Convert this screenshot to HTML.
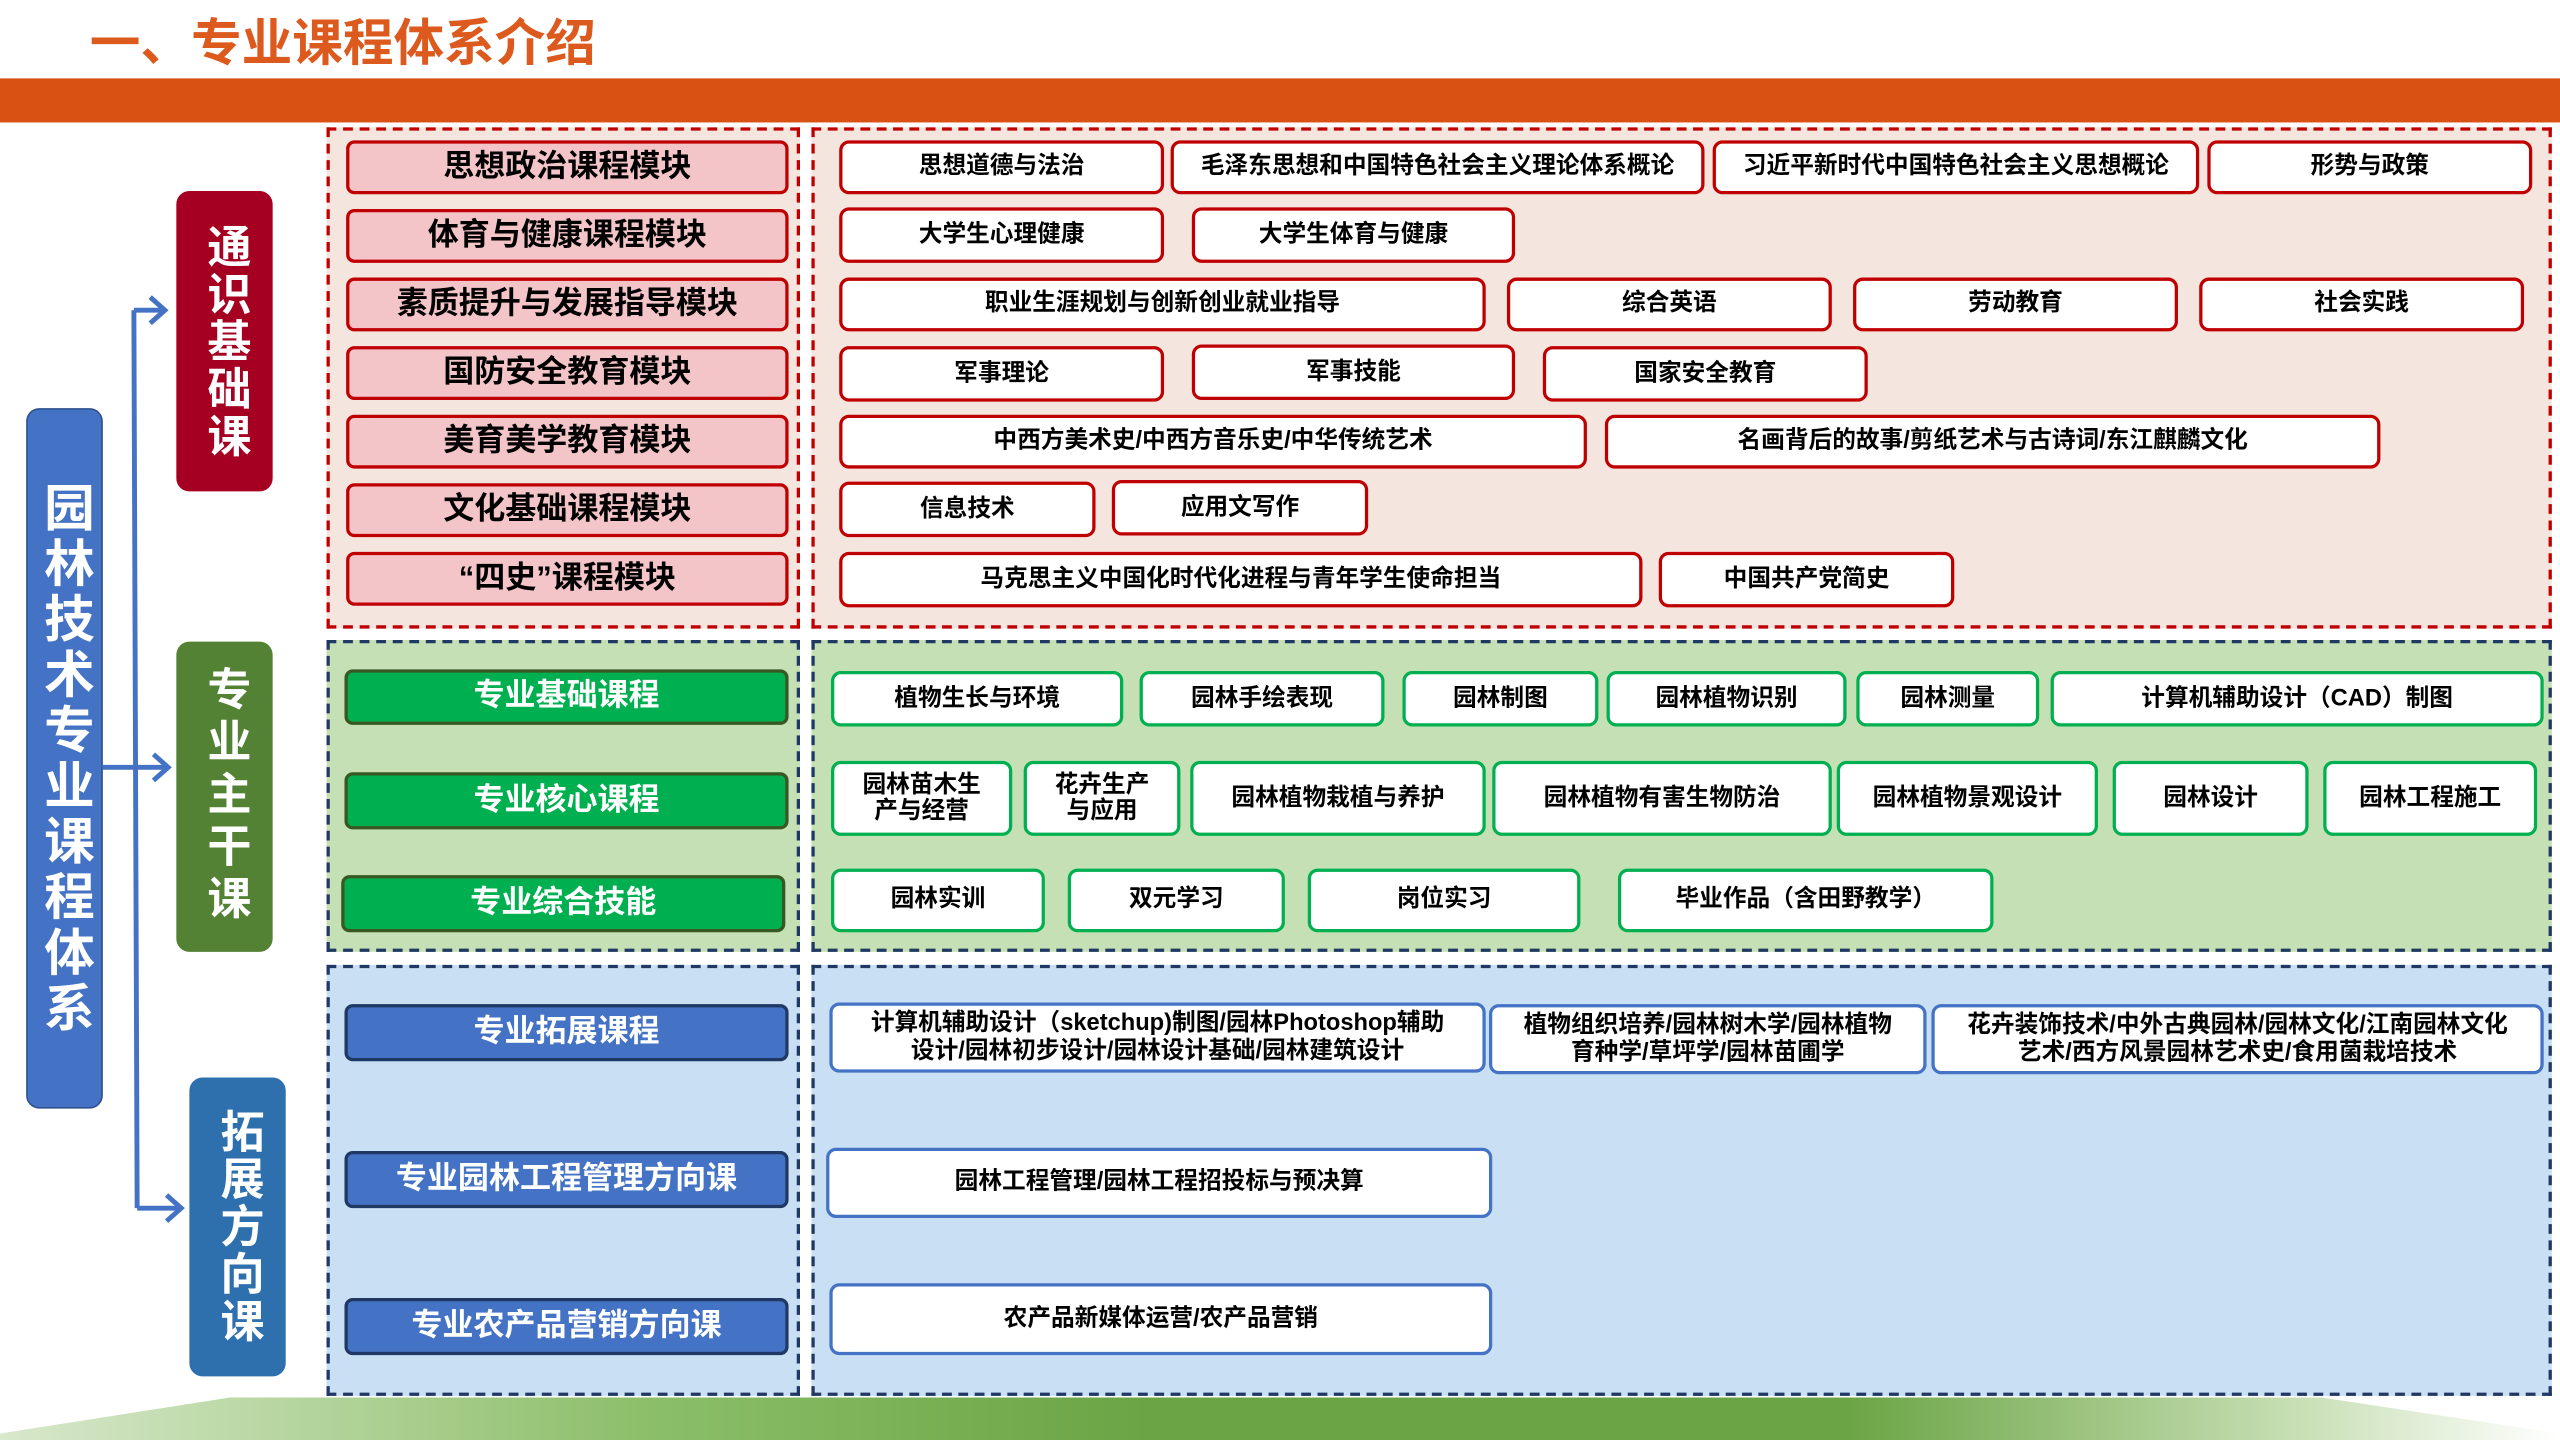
<!DOCTYPE html>
<html><head><meta charset="utf-8"><style>
html,body{margin:0;padding:0;width:2560px;height:1440px;overflow:hidden;background:#fff}
#s{position:absolute;left:0;top:0;width:1568px;height:882px;transform:scale(1.632653);transform-origin:0 0;font-family:"Liberation Sans","Noto Sans CJK SC",sans-serif;font-weight:bold}
#s div{position:absolute;box-sizing:border-box}
.c{display:flex;align-items:center;justify-content:center;text-align:center;line-height:1.12}
.rg{background:#f4e6df;border:2px dashed #c00000}
.gg{background:#c5e0b4;border:2px dashed #203864}
.bg{background:#c9dff4;border:2px dashed #203864}
.rm{background:#f4c5c8;border:2px solid #c00000;border-radius:5px;font-size:19px;color:#000}
.gm{background:#00b050;border:2px solid #385723;border-radius:5px;font-size:19px;color:#fff}
.bm{background:#4472c4;border:2px solid #203864;border-radius:5px;font-size:19px;color:#fff}
.rc{background:#fff;border:2px solid #c00000;border-radius:6px;font-size:14.5px;color:#000}
.gc{background:#fff;border:2px solid #00b050;border-radius:6px;font-size:14.5px;color:#000}
.bc{background:#fff;border:2px solid #4472c4;border-radius:6px;font-size:14.5px;color:#000}
.v{color:#fff;font-size:27px;line-height:1.15;writing-mode:vertical-rl;letter-spacing:2px;border-radius:8px}
</style></head><body><div id="s">
<div style="left:55px;top:6px;font-size:31px;color:#dc5a1e;line-height:42px">一、专业课程体系介绍</div>
<div style="left:0;top:48px;width:1568px;height:27px;background:#d95213"></div>
<svg style="position:absolute;left:0;top:856px" width="1568" height="26"><defs><linearGradient id="g" x1="0" x2="1"><stop offset="0" stop-color="#d8e8cc"/><stop offset="0.25" stop-color="#8dbf6a"/><stop offset="0.45" stop-color="#6aa444"/><stop offset="0.72" stop-color="#6aa444"/><stop offset="0.9" stop-color="#c9e0b6"/><stop offset="1" stop-color="#ffffff"/></linearGradient></defs><polygon points="141,0 1422,0 1568,22 1568,26 0,26 0,22" fill="url(#g)"/></svg>

<div class="c v" style="left:16px;top:250px;width:47px;height:429px;background:#4472c4;border:1px solid #2f528f;font-size:31px;letter-spacing:3px;line-height:1">园林技术专业课程体系</div>
<svg style="position:absolute;left:0;top:0" width="200" height="882"><g stroke="#4472c4" stroke-width="3" fill="none"><path d="M63 470H102M82 190L84 740M82 190H100M84 740H110"/><path d="M92 182L101 190L92 198M94 462L103 470L94 478M102 732L111 740L102 748"/></g></svg>
<div class="c v" style="left:108px;top:117px;width:59px;height:184px;background:#a50021">通识基础课</div>
<div class="c v" style="left:108px;top:393px;width:59px;height:190px;background:#548235;letter-spacing:5px">专业主干课</div>
<div class="c v" style="left:116px;top:660px;width:59px;height:183px;background:#2e6fae">拓展方向课</div>

<div class="rg" style="left:200px;top:78px;width:290px;height:307px"></div>
<div class="rg" style="left:497px;top:78px;width:1066px;height:307px"></div>
<div class="gg" style="left:200px;top:392px;width:290px;height:191px"></div>
<div class="gg" style="left:497px;top:392px;width:1066px;height:191px"></div>
<div class="bg" style="left:200px;top:591px;width:290px;height:264px"></div>
<div class="bg" style="left:497px;top:591px;width:1066px;height:264px"></div>

<div class="c rm" style="left:212px;top:86px;width:271px;height:33px">思想政治课程模块</div>
<div class="c rm" style="left:212px;top:128px;width:271px;height:33px">体育与健康课程模块</div>
<div class="c rm" style="left:212px;top:170px;width:271px;height:33px">素质提升与发展指导模块</div>
<div class="c rm" style="left:212px;top:212px;width:271px;height:33px">国防安全教育模块</div>
<div class="c rm" style="left:212px;top:254px;width:271px;height:33px">美育美学教育模块</div>
<div class="c rm" style="left:212px;top:296px;width:271px;height:33px">文化基础课程模块</div>
<div class="c rm" style="left:212px;top:338px;width:271px;height:33px">“四史”课程模块</div>

<div class="c rc" style="left:514px;top:86px;width:199px;height:33px">思想道德与法治</div>
<div class="c rc" style="left:717px;top:86px;width:327px;height:33px">毛泽东思想和中国特色社会主义理论体系概论</div>
<div class="c rc" style="left:1049px;top:86px;width:298px;height:33px">习近平新时代中国特色社会主义思想概论</div>
<div class="c rc" style="left:1352px;top:86px;width:199px;height:33px">形势与政策</div>
<div class="c rc" style="left:514px;top:127px;width:199px;height:34px">大学生心理健康</div>
<div class="c rc" style="left:730px;top:127px;width:198px;height:34px">大学生体育与健康</div>
<div class="c rc" style="left:514px;top:170px;width:396px;height:33px">职业生涯规划与创新创业就业指导</div>
<div class="c rc" style="left:923px;top:170px;width:199px;height:33px">综合英语</div>
<div class="c rc" style="left:1135px;top:170px;width:199px;height:33px">劳动教育</div>
<div class="c rc" style="left:1347px;top:170px;width:199px;height:33px">社会实践</div>
<div class="c rc" style="left:514px;top:212px;width:199px;height:34px">军事理论</div>
<div class="c rc" style="left:730px;top:211px;width:198px;height:34px">军事技能</div>
<div class="c rc" style="left:945px;top:212px;width:199px;height:34px">国家安全教育</div>
<div class="c rc" style="left:514px;top:254px;width:458px;height:33px">中西方美术史/中西方音乐史/中华传统艺术</div>
<div class="c rc" style="left:983px;top:254px;width:475px;height:33px">名画背后的故事/剪纸艺术与古诗词/东江麒麟文化</div>
<div class="c rc" style="left:514px;top:295px;width:157px;height:34px">信息技术</div>
<div class="c rc" style="left:681px;top:294px;width:157px;height:34px">应用文写作</div>
<div class="c rc" style="left:514px;top:338px;width:492px;height:34px">马克思主义中国化时代化进程与青年学生使命担当</div>
<div class="c rc" style="left:1016px;top:338px;width:181px;height:34px">中国共产党简史</div>

<div class="c gm" style="left:211px;top:410px;width:272px;height:34px">专业基础课程</div>
<div class="c gm" style="left:211px;top:473px;width:272px;height:35px">专业核心课程</div>
<div class="c gm" style="left:209px;top:536px;width:272px;height:35px">专业综合技能</div>

<div class="c gc" style="left:509px;top:411px;width:179px;height:34px">植物生长与环境</div>
<div class="c gc" style="left:698px;top:411px;width:150px;height:34px">园林手绘表现</div>
<div class="c gc" style="left:859px;top:411px;width:120px;height:34px">园林制图</div>
<div class="c gc" style="left:984px;top:411px;width:147px;height:34px">园林植物识别</div>
<div class="c gc" style="left:1137px;top:411px;width:112px;height:34px">园林测量</div>
<div class="c gc" style="left:1256px;top:411px;width:302px;height:34px">计算机辅助设计（CAD）制图</div>
<div class="c gc" style="left:509px;top:466px;width:111px;height:46px">园林苗木生<br>产与经营</div>
<div class="c gc" style="left:627px;top:466px;width:96px;height:46px">花卉生产<br>与应用</div>
<div class="c gc" style="left:729px;top:466px;width:181px;height:46px">园林植物栽植与养护</div>
<div class="c gc" style="left:914px;top:466px;width:208px;height:46px">园林植物有害生物防治</div>
<div class="c gc" style="left:1125px;top:466px;width:160px;height:46px">园林植物景观设计</div>
<div class="c gc" style="left:1294px;top:466px;width:120px;height:46px">园林设计</div>
<div class="c gc" style="left:1423px;top:466px;width:131px;height:46px">园林工程施工</div>
<div class="c gc" style="left:509px;top:532px;width:131px;height:39px">园林实训</div>
<div class="c gc" style="left:654px;top:532px;width:133px;height:39px">双元学习</div>
<div class="c gc" style="left:801px;top:532px;width:167px;height:39px">岗位实习</div>
<div class="c gc" style="left:991px;top:532px;width:230px;height:39px">毕业作品（含田野教学）</div>

<div class="c bm" style="left:211px;top:615px;width:272px;height:35px">专业拓展课程</div>
<div class="c bm" style="left:211px;top:705px;width:272px;height:35px">专业园林工程管理方向课</div>
<div class="c bm" style="left:211px;top:795px;width:272px;height:35px">专业农产品营销方向课</div>

<div class="c bc" style="left:508px;top:614px;width:402px;height:43px">计算机辅助设计（sketchup)制图/园林Photoshop辅助<br>设计/园林初步设计/园林设计基础/园林建筑设计</div>
<div class="c bc" style="left:912px;top:615px;width:268px;height:43px">植物组织培养/园林树木学/园林植物<br>育种学/草坪学/园林苗圃学</div>
<div class="c bc" style="left:1183px;top:615px;width:375px;height:43px">花卉装饰技术/中外古典园林/园林文化/江南园林文化<br>艺术/西方风景园林艺术史/食用菌栽培技术</div>
<div class="c bc" style="left:506px;top:703px;width:408px;height:43px">园林工程管理/园林工程招投标与预决算</div>
<div class="c bc" style="left:508px;top:786px;width:406px;height:44px">农产品新媒体运营/农产品营销</div>
</div></body></html>
